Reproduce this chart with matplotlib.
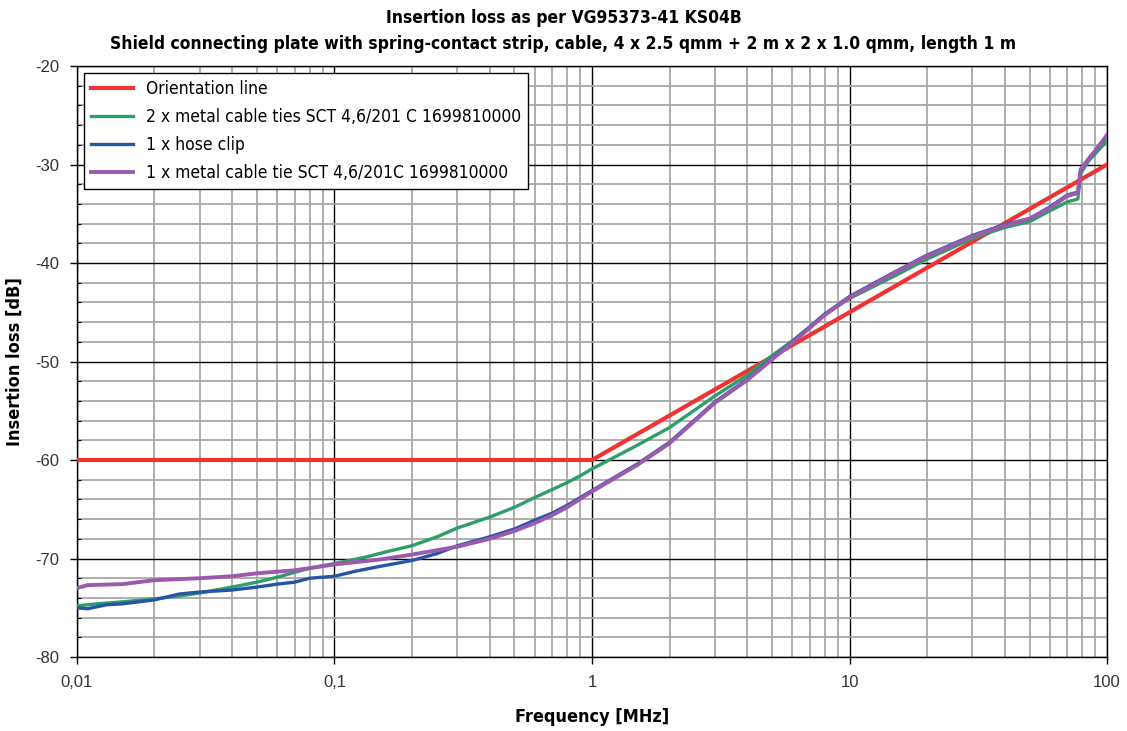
import matplotlib
matplotlib.use("Agg")
import matplotlib.pyplot as plt
from matplotlib.ticker import FixedLocator, FixedFormatter, MultipleLocator, LogLocator, NullFormatter

# frequencies in MHz, values in dB
orient_f = [0.01, 1, 100]
orient_db = [-60, -60, -30]

ties2_f = [0.01, 0.012, 0.015, 0.02, 0.025, 0.03, 0.04, 0.05, 0.06, 0.07, 0.08, 0.1,
           0.13, 0.16, 0.2, 0.25, 0.3, 0.4, 0.5, 0.6, 0.7, 0.8, 0.9, 1.0, 1.5, 2, 3, 4,
           5, 6, 7, 8, 10, 15, 20, 30, 40, 50, 60, 70, 77, 79, 85, 90, 100]
ties2_db = [-74.8, -74.6, -74.4, -74.1, -73.8, -73.5, -72.9, -72.4, -71.9, -71.4, -71.0, -70.5,
            -69.9, -69.3, -68.7, -67.8, -66.9, -65.8, -64.8, -63.8, -63.0, -62.3, -61.6, -60.9,
            -58.5, -56.7, -53.5, -51.4, -49.4, -47.9, -46.5, -45.2, -43.6, -41.3, -39.6, -37.5,
            -36.4, -35.8, -34.7, -33.8, -33.5, -30.9, -29.6, -28.9, -27.6]

hose_f = [0.01, 0.011, 0.013, 0.015, 0.02, 0.025, 0.03, 0.04, 0.05, 0.06, 0.07, 0.08, 0.1,
          0.12, 0.15, 0.2, 0.25, 0.3, 0.4, 0.5, 0.6, 0.7, 0.8, 1.0, 1.5, 2, 3, 4, 5, 6, 7, 8,
          10, 15, 20, 30, 40, 50, 60, 70, 77, 79, 85, 90, 100]
hose_db = [-75.0, -75.1, -74.7, -74.6, -74.2, -73.6, -73.4, -73.2, -72.9, -72.6, -72.4, -72.0,
           -71.8, -71.3, -70.8, -70.2, -69.5, -68.7, -67.8, -67.0, -66.1, -65.4, -64.6, -63.1,
           -60.4, -58.2, -54.1, -51.8, -49.7, -48.0, -46.5, -45.2, -43.4, -40.9, -39.2, -37.2,
           -36.1, -35.5, -34.3, -33.1, -32.8, -30.5, -29.4, -28.6, -27.1]

tie1_f = [0.01, 0.011, 0.015, 0.02, 0.03, 0.04, 0.05, 0.07, 0.1, 0.15, 0.2, 0.3, 0.4, 0.5,
          0.6, 0.7, 0.8, 1.0, 1.5, 2, 3, 4, 5, 6, 7, 8, 10, 15, 20, 30, 40, 50, 60, 70, 77,
          79, 85, 90, 100]
tie1_db = [-73.0, -72.7, -72.6, -72.2, -72.0, -71.8, -71.5, -71.2, -70.6, -70.1, -69.6, -68.8,
           -68.0, -67.2, -66.4, -65.6, -64.8, -63.2, -60.5, -58.3, -54.2, -51.9, -49.8, -48.1,
           -46.6, -45.3, -43.5, -41.0, -39.3, -37.3, -36.2, -35.5, -34.4, -33.2, -32.9, -30.5,
           -29.4, -28.6, -27.0]

x_ticks = [0.01, 0.1, 1, 10, 100]
x_labels = ["0,01", "0,1", "1", "10", "100"]

plt.rcParams["axes.unicode_minus"] = False
plt.rcParams["font.family"] = "Liberation Sans"
cond = {"family": "DejaVu Sans", "stretch": "condensed"}

fig = plt.figure(figsize=(11.27, 7.31), dpi=100)
ax = fig.add_axes([0.0683, 0.1012, 0.9140, 0.8085])

ax.plot(orient_f, orient_db, color="#ee3333", lw=3.0, label="Orientation line", zorder=3)
ax.plot(ties2_f, ties2_db, color="#2e9e68", lw=2.4,
        label="2 x metal cable ties SCT 4,6/201 C 1699810000", zorder=4)
ax.plot(hose_f, hose_db, color="#2655a8", lw=2.4, label="1 x hose clip", zorder=5)
ax.plot(tie1_f, tie1_db, color="#9b5aae", lw=2.8,
        label="1 x metal cable tie SCT 4,6/201C 1699810000", zorder=6)

ax.set_xscale("log")
ax.set_xlim(0.01, 100)
ax.set_ylim(-80, -20)
ax.xaxis.set_major_locator(FixedLocator(x_ticks))
ax.xaxis.set_major_formatter(FixedFormatter(x_labels))
ax.xaxis.set_minor_locator(LogLocator(base=10, subs=range(2, 10)))
ax.xaxis.set_minor_formatter(NullFormatter())
ax.yaxis.set_major_locator(MultipleLocator(10))
ax.yaxis.set_minor_locator(MultipleLocator(2))

ax.grid(which="major", color="black", lw=1.0, zorder=1)
ax.grid(which="minor", color="#a8a8a8", lw=1.3, zorder=0)
ax.set_axisbelow(True)
for s in ax.spines.values():
    s.set_color("black")
    s.set_linewidth(1.0)

ax.tick_params(which="major", direction="out", length=5, width=1, labelsize=12,
               labelcolor="#333333", pad=8)
ax.tick_params(axis="y", which="minor", direction="in", length=3, width=0.8)
ax.tick_params(axis="x", which="minor", length=0)

ax.set_xlabel("Frequency [MHz]", fontweight="bold", fontsize=13, labelpad=13, **cond)
ax.set_ylabel("Insertion loss [dB]", fontweight="bold", fontsize=13, labelpad=8, **cond)
fig.suptitle("Insertion loss as per VG95373-41 KS04B\n"
             "Shield connecting plate with spring-contact strip, cable, 4 x 2.5 qmm + 2 m x 2 x 1.0 qmm, length 1 m",
             fontweight="bold", fontsize=12.5, y=0.988, linespacing=1.6, **cond)

leg = ax.legend(loc="upper left", prop={"family": "DejaVu Sans", "stretch": "condensed", "size": 12.5},
                fancybox=False, framealpha=1, edgecolor="black", borderaxespad=0.4,
                handlelength=2.4, labelspacing=0.58, borderpad=0.4)
leg.get_frame().set_linewidth(1.0)
leg.set_zorder(10)

fig.savefig("out.png", dpi=100)
